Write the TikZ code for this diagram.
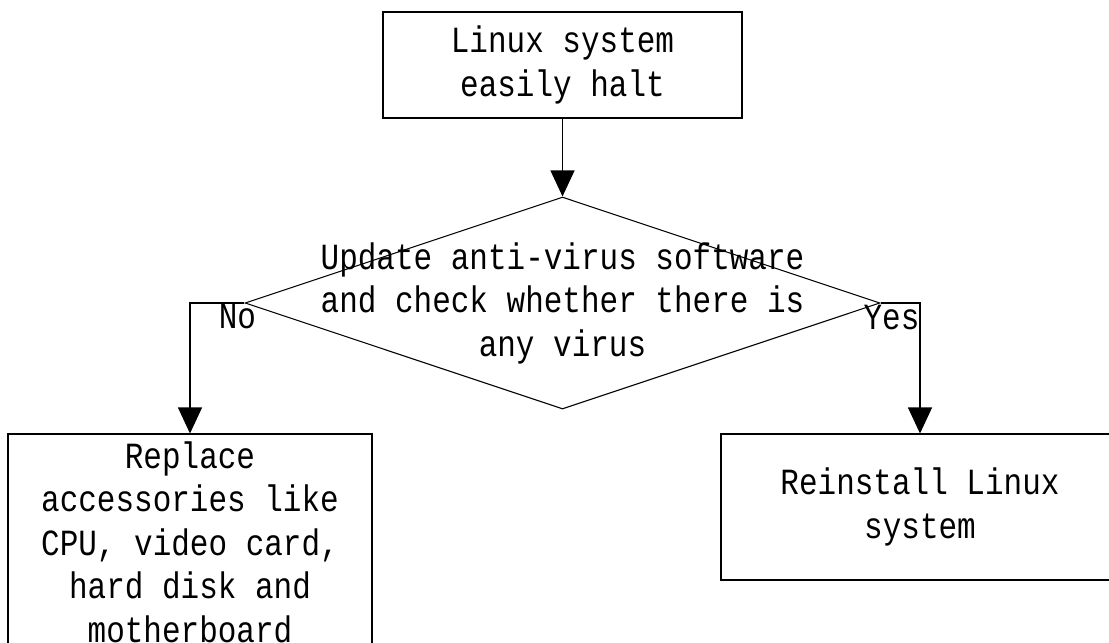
\documentclass[tikz,border=0pt]{standalone}
\usepackage{fontspec}
\newfontfamily\fcfont[FakeStretch=0.84]{Liberation Mono}
\usetikzlibrary{arrows.meta,positioning,shapes.geometric}
\tikzset{
  fcbox/.style={draw, rectangle, line width=0.6pt, inner sep=0pt, align=center, font=\fcfont\fontsize{21}{24.75}\selectfont},
  fcdiamond/.style={draw, diamond, line width=0.6pt, inner sep=0pt, minimum width=12.7cm, minimum height=4.24cm},
  fcarrow/.style={-{Triangle[length=0.52cm, width=0.48cm]}, line width=0.6pt},
  fclabel/.style={inner sep=0pt, font=\fcfont\fontsize{21}{24.75}\selectfont},
}
\begin{document}
\begin{tikzpicture}
  \useasboundingbox (0,0) rectangle (22.18,-12.84);
  \node[fcbox, minimum width=7.18cm, minimum height=2.12cm] (halt) at (11.25,-1.30)
    {Linux system\\easily halt};
  \node[fcdiamond, label={[fclabel, align=center]center:{Update anti-virus software\\and check whether there is\\any virus}}] (ask) at (11.25,-6.06) {};
  \node[fcbox, minimum width=7.28cm, minimum height=4.32cm] (replace) at (3.80,-10.84)
    {Replace\\accessories like\\CPU, video card,\\hard disk and\\motherboard};
  \node[fcbox, minimum width=7.96cm, minimum height=2.92cm] (reinstall) at (18.40,-10.14)
    {Reinstall Linux\\system};

  \draw[fcarrow] (halt) -- (ask);
  \draw[fcarrow] (ask.west) -| (replace.north);
  \draw[fcarrow] (ask.east) -| (reinstall.north);

  \node[fclabel, below=0.02cm of ask.west, xshift=-0.14cm] (no) {No};
  \node[fclabel, below=0.04cm of ask.east, xshift=0.22cm] (yes) {Yes};
\end{tikzpicture}
\end{document}
